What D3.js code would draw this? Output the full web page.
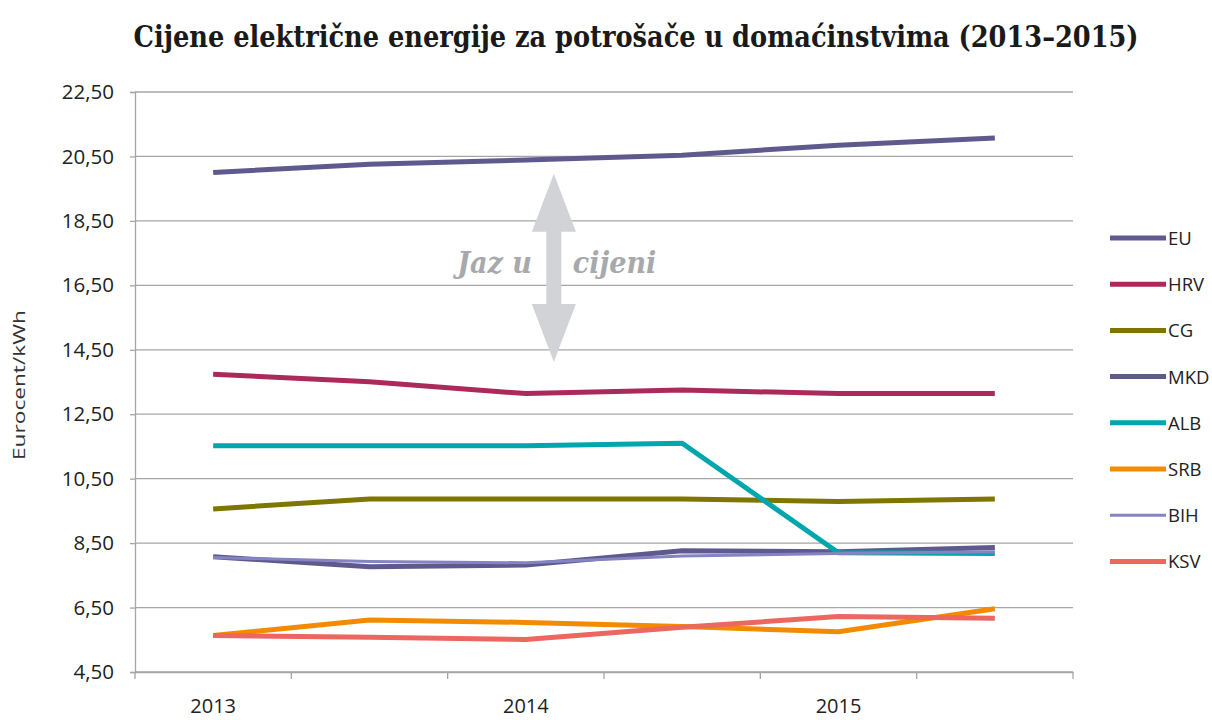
<!DOCTYPE html>
<html>
<head>
<meta charset="utf-8">
<script src="https://cdn.jsdelivr.net/npm/d3@7"></script>
<style>
  body { margin: 0; background: #fff; }
  svg { display: block; }
</style>
</head>
<body>
<svg id="chart" width="1212" height="720"></svg>
<script>
const periods = ["2013-1", "2013-2", "2014-1", "2014-2", "2015-1", "2015-2"];
const periodLabels = ["2013", "", "2014", "", "2015", ""];
const yTicks = [4.5, 6.5, 8.5, 10.5, 12.5, 14.5, 16.5, 18.5, 20.5, 22.5];

const seriesNames = ["EU", "HRV", "CG", "MKD", "ALB", "SRB", "BIH", "KSV"];
const EU  = [20.00, 20.26, 20.39, 20.54, 20.85, 21.07];
const HRV = [13.74, 13.51, 13.14, 13.25, 13.14, 13.14];
const CG  = [9.56, 9.87, 9.87, 9.87, 9.79, 9.87];
const MKD = [8.08, 7.77, 7.82, 8.26, 8.23, 8.36];
const ALB = [11.52, 11.52, 11.52, 11.60, 8.20, 8.18];
const SRB = [5.63, 6.11, 6.04, 5.91, 5.75, 6.46];
const BIH = [8.05, 7.93, 7.89, 8.10, 8.18, 8.23];
const KSV = [5.63, 5.58, 5.51, 5.89, 6.22, 6.17];

const seriesValues = [EU, HRV, CG, MKD, ALB, SRB, BIH, KSV];
const colors = ["#5e5a8e", "#ab2a5b", "#7f7600", "#5e5a8e", "#00a6ad", "#f28b00", "#8584c2", "#ec6760"];
const widths = [5, 5, 5, 5, 5, 5, 3, 5];

(function () {
const svg = d3.select("#chart");
const mLeft = 135, mRight = 1073, mTop = 92, mBottom = 672;
const sans = "'Open Sans', 'Noto Sans', sans-serif";
const slab = "'DejaVu Serif Condensed', 'DejaVu Serif', serif";

const x = d3.scaleBand().domain(periods).range([mLeft, mRight]);
const y = d3.scaleLinear().domain([4.5, 22.5]).range([mBottom, mTop]);

// Title
svg.append("text")
  .attr("x", 636).attr("y", 47)
  .attr("text-anchor", "middle")
  .attr("font-family", slab)
  .attr("font-weight", "bold")
  .attr("font-size", 29)
  .attr("fill", "#1a1a1a")
  .attr("textLength", 1005)
  .attr("lengthAdjust", "spacingAndGlyphs")
  .text("Cijene električne energije za potrošače u domaćinstvima (2013–2015)");

// Gridlines
svg.append("g")
  .selectAll("line")
  .data(yTicks)
  .join("line")
  .attr("x1", mLeft).attr("x2", mRight)
  .attr("y1", d => y(d)).attr("y2", d => y(d))
  .attr("stroke", "#a6a6a6").attr("stroke-width", 1.3);

// Y axis
const yAxis = svg.append("g")
  .attr("transform", `translate(${mLeft},0)`)
  .call(d3.axisLeft(y).tickValues(yTicks).tickSize(5).tickPadding(16)
    .tickFormat(d => d3.format(".2f")(d).replace(".", ",")));
yAxis.select(".domain").attr("stroke", "#a6a6a6").attr("stroke-width", 1.3);
yAxis.selectAll(".tick line").attr("stroke", "#a6a6a6").attr("stroke-width", 1.3);
yAxis.selectAll(".tick text")
  .attr("font-family", sans)
  .attr("font-size", 20.5).attr("fill", "#222");

// X axis
const xAxis = svg.append("g")
  .attr("transform", `translate(0,${mBottom})`)
  .call(d3.axisBottom(x).tickSize(0).tickPadding(27)
    .tickFormat((d, i) => periodLabels[i]));
xAxis.select(".domain").attr("stroke", "#a6a6a6").attr("stroke-width", 1.3);
xAxis.selectAll(".tick text")
  .attr("font-family", sans)
  .attr("font-size", 20).attr("fill", "#222");
// boundary ticks
const bounds = periods.map(p => x(p)).concat([x(periods[periods.length - 1]) + x.bandwidth()]);
svg.append("g").selectAll("line").data(bounds).join("line")
  .attr("x1", d => d).attr("x2", d => d)
  .attr("y1", mBottom).attr("y2", mBottom + 7)
  .attr("stroke", "#a6a6a6").attr("stroke-width", 1.3);

// Y label
svg.append("text")
  .attr("transform", `translate(25,385) rotate(-90)`)
  .attr("text-anchor", "middle")
  .attr("font-family", sans)
  .attr("font-size", 17).attr("fill", "#333")
  .attr("textLength", 150)
  .attr("lengthAdjust", "spacingAndGlyphs")
  .text("Eurocent/kWh");

// Gap arrow annotation
const ax = x(periods[2]) + x.bandwidth() / 2 + 28;
const aTop = y(19.96), aBot = y(14.12);
const headH = 58, headW = 22, shaftW = 7.5;
svg.append("path")
  .attr("d", `M${ax},${aTop} L${ax + headW},${aTop + headH} L${ax + shaftW},${aTop + headH}
              L${ax + shaftW},${aBot - headH} L${ax + headW},${aBot - headH} L${ax},${aBot}
              L${ax - headW},${aBot - headH} L${ax - shaftW},${aBot - headH}
              L${ax - shaftW},${aTop + headH} L${ax - headW},${aTop + headH} Z`)
  .attr("fill", "#d2d3d6");
svg.append("text")
  .attr("x", ax - 22).attr("y", 273)
  .attr("text-anchor", "end")
  .attr("font-family", slab)
  .attr("font-weight", "bold").attr("font-style", "italic")
  .attr("font-size", 30).attr("fill", "#a7a9ac")
  .text("Jaz u");
svg.append("text")
  .attr("x", ax + 19).attr("y", 273)
  .attr("text-anchor", "start")
  .attr("font-family", slab)
  .attr("font-weight", "bold").attr("font-style", "italic")
  .attr("font-size", 30).attr("fill", "#a7a9ac")
  .text("cijeni");

// Lines
const line = d3.line()
  .x((d, i) => x(periods[i]) + x.bandwidth() / 2)
  .y(d => y(d));
svg.append("g").selectAll("path")
  .data(seriesValues)
  .join("path")
  .attr("d", d => line(d))
  .attr("fill", "none")
  .attr("stroke", (d, i) => colors[i])
  .attr("stroke-width", (d, i) => widths[i])
  .attr("stroke-linejoin", "miter");

// Legend
const lg = svg.append("g").attr("transform", "translate(1110,238)");
const rows = lg.selectAll("g").data(seriesNames).join("g")
  .attr("transform", (d, i) => `translate(0,${i * 46.2})`);
rows.append("line")
  .attr("x1", 0).attr("x2", 56).attr("y1", 0).attr("y2", 0)
  .attr("stroke", (d, i) => colors[i])
  .attr("stroke-width", (d, i) => widths[i]);
rows.append("text")
  .attr("x", 58).attr("y", 7)
  .attr("font-family", sans)
  .attr("font-size", 18.5).attr("fill", "#222")
  .text(d => d);
})();
</script>
</body>
</html>
